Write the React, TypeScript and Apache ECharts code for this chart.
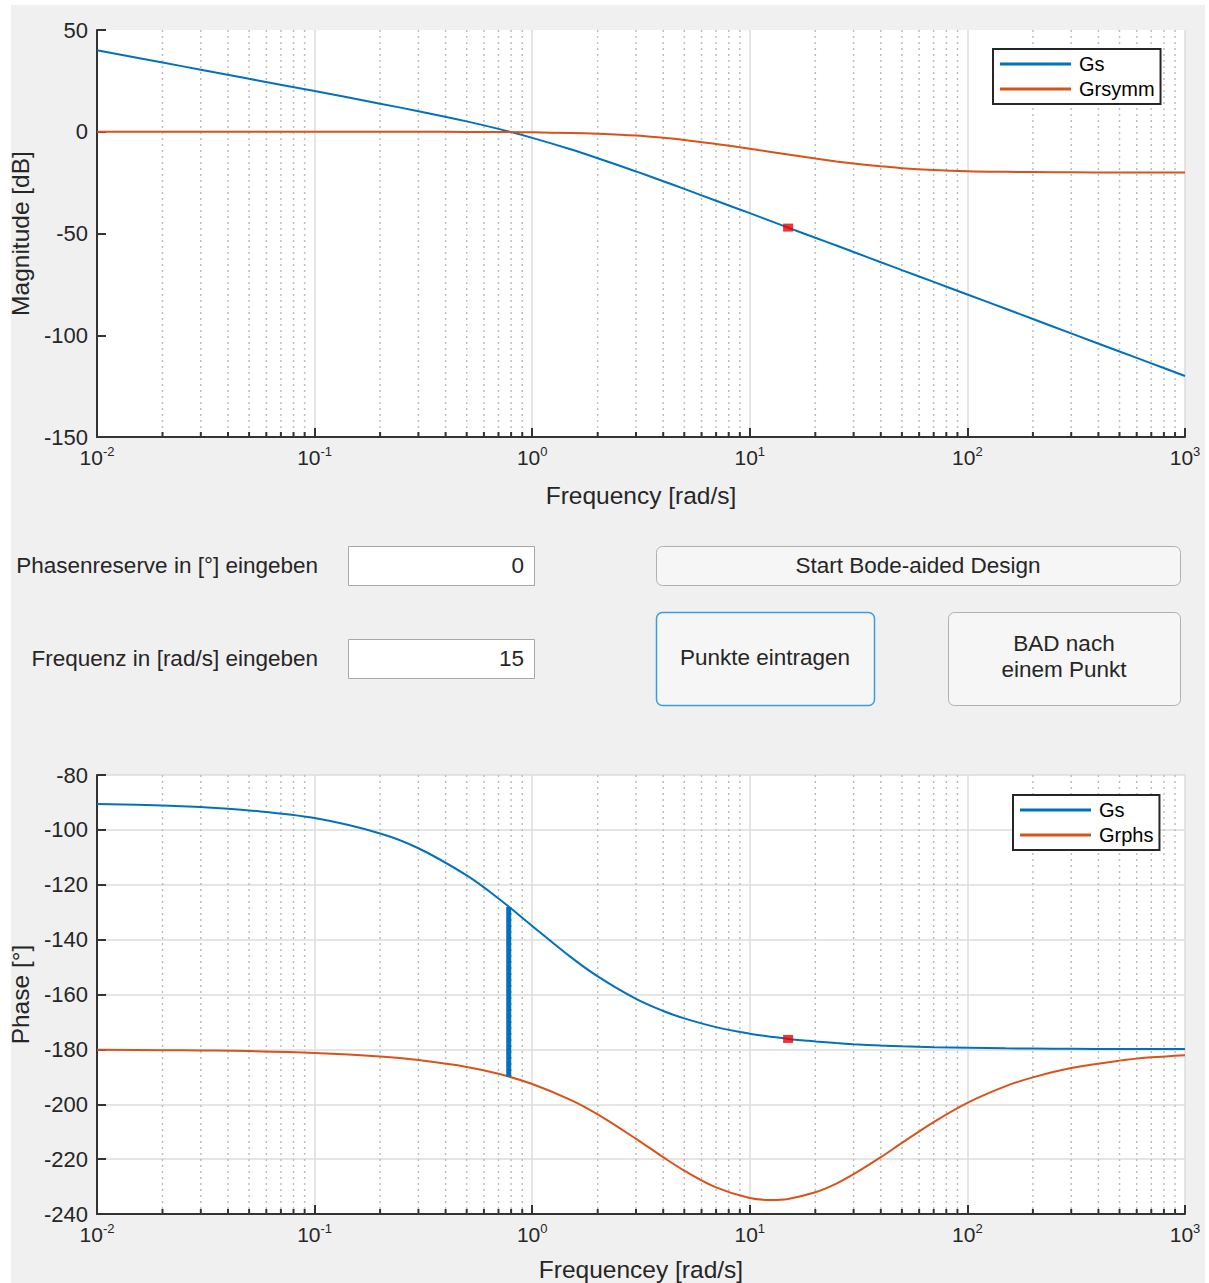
import React, { useEffect, useRef } from "react";
import * as echarts from "echarts";

// ---------- data ----------
const FREQ = [0.01, 0.02, 0.03, 0.05, 0.1, 0.2, 0.3, 0.5, 0.7, 1, 1.5, 2, 3, 4, 5, 7, 10, 12.5, 15, 20, 25, 30, 40, 50, 70, 100, 150, 200, 300, 500, 700, 1000];
const GS_MAG = [40.0, 34.0, 30.5, 26.0, 20.0, 13.8, 10.1, 5.1, 1.4, -3.0, -8.6, -13.0, -19.5, -24.3, -28.1, -33.9, -40.0, -43.9, -47.1, -52.1, -55.9, -59.1, -64.1, -68.0, -73.8, -80.0, -87.0, -92.0, -99.1, -108.0, -113.8, -120.0];
const GRSYMM_MAG = [0, 0, 0, 0, 0, 0, 0, -0.1, -0.1, -0.3, -0.6, -1.0, -1.9, -3.0, -4.0, -6.0, -8.3, -9.9, -11.2, -13.2, -14.6, -15.6, -17.0, -17.9, -18.8, -19.4, -19.7, -19.8, -19.9, -20.0, -20.0, -20.0];
const GS_PHASE = [-90.6, -91.1, -91.7, -92.9, -95.7, -101.3, -106.7, -116.6, -125.0, -135.0, -146.3, -153.4, -161.6, -166.0, -168.7, -171.9, -174.3, -175.4, -176.2, -177.1, -177.7, -178.1, -178.6, -178.9, -179.2, -179.4, -179.6, -179.7, -179.8, -179.9, -179.9, -179.9];
const GRPHS_PHASE = [-180.1, -180.3, -180.4, -180.6, -181.3, -182.6, -183.9, -186.4, -188.9, -192.6, -198.4, -203.7, -212.6, -219.3, -224.2, -230.3, -234.2, -234.9, -234.5, -232.1, -228.9, -225.5, -219.3, -214.1, -206.5, -199.5, -193.4, -190.2, -186.8, -184.1, -182.9, -182.1];

const MARK_FREQ = 15;
const MARK_MAG = -47.1;
const MARK_PHASE = -176.2;
const PM_FREQ = 0.78;
const PM_PHASE = [-128.1, -190.0];

const X_RANGE = [0.01, 1000];
const MAG_RANGE = [-150, 50, 50];
const PHASE_RANGE = [-240, -80, 20];
const DECADES = [0.01, 0.1, 1, 10, 100];
const MINOR_MULT = [2, 3, 4, 5, 6, 7, 8, 9];
const MINOR_FREQ = DECADES.flatMap((d) => MINOR_MULT.map((m) => +(d * m).toPrecision(3)));

const MAG_LEGEND = ["Gs", "Grsymm"];
const PHASE_LEGEND = ["Gs", "Grphs"];

// ---------- styling ----------
const FONT = "'Liberation Sans', Arial, Helvetica, sans-serif";
const BLUE = "#0072BD";
const ORANGE = "#D95319";
const AX = "#333333";
const TXT = "#262626";
const UI_SIZE = 22.5;

const pair = (ys: number[]) => FREQ.map((f, i) => [f, ys[i]]);

const minorGrid = (params: any, api: any) => {
  const cs = params.coordSys;
  const x = api.coord([api.value(0), api.value(1)])[0];
  const yb = cs.y + cs.height;
  return {
    type: "group",
    children: [
      { type: "line", shape: { x1: x, y1: cs.y, x2: x, y2: yb }, style: { stroke: "#bdbdbd", lineWidth: 1.5, lineDash: [2, 4] } },
      { type: "line", shape: { x1: x, y1: yb - 5, x2: x, y2: yb }, style: { stroke: AX, lineWidth: 2 } },
    ],
  };
};

const xAxisBase = (gridIndex: number, name: string, nameGap: number) => ({
  type: "log",
  logBase: 10,
  gridIndex,
  min: X_RANGE[0],
  max: X_RANGE[1],
  splitNumber: 5,
  name,
  nameLocation: "middle",
  nameGap,
  nameTextStyle: { fontSize: 24.5, color: TXT, fontFamily: FONT },
  axisLine: { show: true, onZero: false, lineStyle: { color: AX, width: 2 } },
  axisTick: { show: true, inside: true, length: 9, lineStyle: { color: AX, width: 2 } },
  splitLine: { show: true, lineStyle: { color: "#dcdcdc", width: 1.5 } },
  axisLabel: {
    margin: 8,
    color: TXT,
    fontFamily: FONT,
    formatter: (v: number) => `{b|10}{s|${Math.round(Math.log10(v))}}`,
    rich: {
      b: { fontSize: 21, lineHeight: 24, color: TXT, fontFamily: FONT },
      s: { fontSize: 13, lineHeight: 13, verticalAlign: "top", color: TXT, fontFamily: FONT },
    },
  },
});

const yAxisBase = (gridIndex: number, name: string, r: number[], split: boolean) => ({
  type: "value",
  gridIndex,
  min: r[0],
  max: r[1],
  interval: r[2],
  name,
  nameLocation: "middle",
  nameGap: 60,
  nameRotate: 90,
  nameTextStyle: { fontSize: 24.5, color: TXT, fontFamily: FONT },
  axisLine: { show: true, onZero: false, lineStyle: { color: AX, width: 2 } },
  axisTick: { show: true, inside: true, length: 9, lineStyle: { color: AX, width: 2 } },
  splitLine: { show: split, lineStyle: { color: "#dcdcdc", width: 1.5 } },
  axisLabel: { fontSize: 22, color: TXT, fontFamily: FONT, margin: 9 },
});

const legendBase = (data: string[], left: number, top: number) => ({
  data,
  left,
  top,
  orient: "vertical",
  icon: "rect",
  backgroundColor: "#ffffff",
  borderColor: "#262626",
  borderWidth: 2,
  borderRadius: 0,
  padding: [5, 6, 5, 7],
  itemWidth: 71,
  itemHeight: 3,
  itemGap: 5,
  selectedMode: false,
  textStyle: { fontSize: 20, color: "#000", fontFamily: FONT, padding: [0, 0, 0, 3] },
});

const txt = (text: string, x: number, y: number, align = "center") => ({
  type: "text",
  x,
  y,
  silent: true,
  style: { text, fontSize: UI_SIZE, fontFamily: FONT, fill: TXT, align, verticalAlign: "middle", lineHeight: 26 },
});

const box = (x: number, y: number, w: number, h: number, fill: string, stroke: string, r = 0, lw = 1) => ({
  type: "rect",
  silent: true,
  shape: { x, y, width: w, height: h, r },
  style: { fill, stroke, lineWidth: lw },
});

const lineSeries = (name: string, xi: number, ys: number[], color: string) => ({
  type: "line",
  name,
  xAxisIndex: xi,
  yAxisIndex: xi,
  data: pair(ys),
  smooth: 0.35,
  symbol: "none",
  lineStyle: { color, width: 2 },
  itemStyle: { color },
  z: 3,
});

export default function App() {
  const ref = useRef<HTMLDivElement>(null);
  useEffect(() => {
    if (!ref.current) return;
    const chart = echarts.init(ref.current, undefined, { renderer: "svg" });
    const option: any = {
      animation: false,
      backgroundColor: "#f0f0f0",
      grid: [
        { left: 97, top: 30, width: 1088, height: 407, show: true, backgroundColor: "#ffffff", borderWidth: 0, outerBoundsMode: "none" },
        { left: 97, top: 775, width: 1088, height: 439, show: true, backgroundColor: "#ffffff", borderWidth: 0, outerBoundsMode: "none" },
      ],
      xAxis: [xAxisBase(0, "Frequency [rad/s]", 46), xAxisBase(1, "Frequencey [rad/s]", 43)],
      yAxis: [yAxisBase(0, "Magnitude [dB]", MAG_RANGE, false), yAxisBase(1, "Phase [°]", PHASE_RANGE, true)],
      legend: [legendBase(MAG_LEGEND, 993, 49), legendBase(PHASE_LEGEND, 1013, 795)],
      series: [
        { type: "custom", name: "minor0", xAxisIndex: 0, yAxisIndex: 0, data: MINOR_FREQ.map((f) => [f, 0]), renderItem: minorGrid, silent: true, z: 1 },
        { type: "custom", name: "minor1", xAxisIndex: 1, yAxisIndex: 1, data: MINOR_FREQ.map((f) => [f, -160]), renderItem: minorGrid, silent: true, z: 1 },
        lineSeries("Gs", 0, GS_MAG, BLUE),
        lineSeries("Grsymm", 0, GRSYMM_MAG, ORANGE),
        { type: "scatter", name: "mark0", xAxisIndex: 0, yAxisIndex: 0, data: [[MARK_FREQ, MARK_MAG]], symbol: "rect", symbolSize: [10, 8], itemStyle: { color: "#ee0000" }, z: 5 },
        lineSeries("Gs", 1, GS_PHASE, BLUE),
        lineSeries("Grphs", 1, GRPHS_PHASE, ORANGE),
        { type: "line", name: "PM", xAxisIndex: 1, yAxisIndex: 1, data: PM_PHASE.map((p) => [PM_FREQ, p]), symbol: "none", lineStyle: { color: BLUE, width: 5, cap: "butt" }, z: 4 },
        { type: "scatter", name: "mark1", xAxisIndex: 1, yAxisIndex: 1, data: [[MARK_FREQ, MARK_PHASE]], symbol: "rect", symbolSize: [10, 8], itemStyle: { color: "#ee0000" }, z: 5 },
      ],
      graphic: [
        box(0, 0, 11, 1283, "#ffffff", "none"),
        box(0, 0, 1209, 5, "#ffffff", "none"),
        box(1205, 0, 4, 1283, "#ffffff", "none"),
        txt("Phasenreserve in [°] eingeben", 318, 565, "right"),
        box(348.5, 546.5, 186, 39, "#ffffff", "#a8a8a8"),
        txt("0", 524, 565, "right"),
        txt("Frequenz in [rad/s] eingeben", 318, 658, "right"),
        box(348.5, 639.5, 186, 39, "#ffffff", "#a8a8a8"),
        txt("15", 524, 658, "right"),
        box(656.5, 546.5, 524, 39, "#f6f6f6", "#b0b0b0", 6),
        txt("Start Bode-aided Design", 918, 565),
        box(656.5, 612.5, 218, 93, "#f6f6f6", "#3d9be0", 6, 1.5),
        txt("Punkte eintragen", 765, 657),
        box(948.5, 612.5, 232, 93, "#f6f6f6", "#b0b0b0", 6),
        txt("BAD nach\neinem Punkt", 1064, 656),
      ],
    };
    chart.setOption(option);
    return () => chart.dispose();
  }, []);
  return <div ref={ref} style={{ position: "absolute", left: 0, top: 0, width: 1209, height: 1283 }} />;
}
